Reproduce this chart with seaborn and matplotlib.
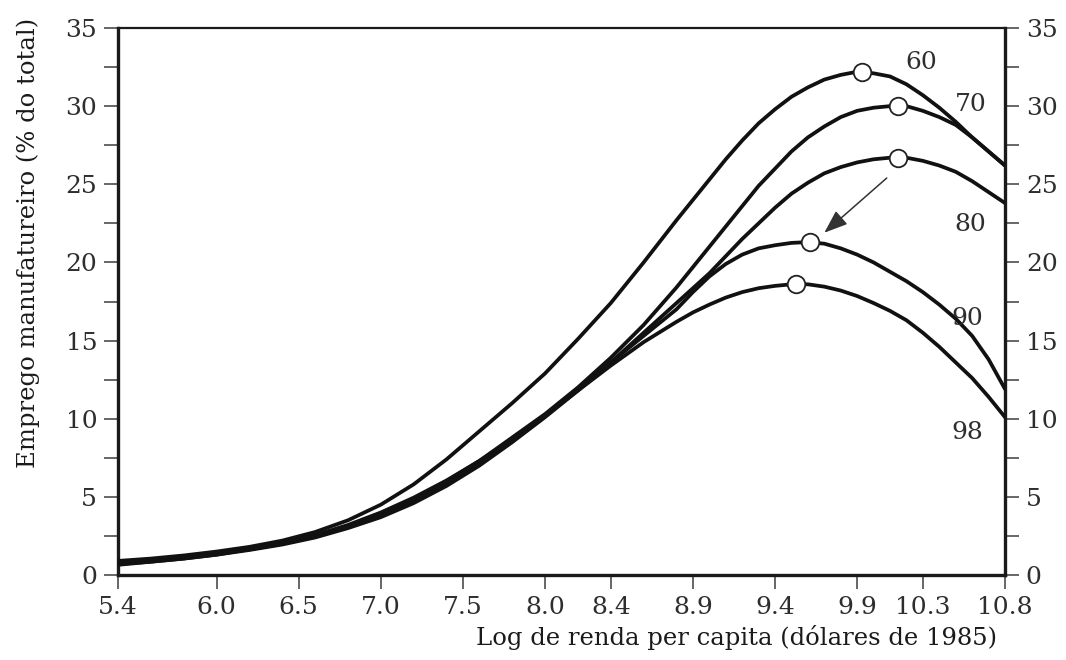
import numpy as np
import pandas as pd
import matplotlib
matplotlib.use("Agg")
import matplotlib.pyplot as plt
import seaborn as sns

# ---------------- data ----------------
x_grid = [5.4, 5.6, 5.8, 6.0, 6.2, 6.4, 6.6, 6.8, 7.0, 7.2, 7.4, 7.6, 7.8, 8.0,
          8.2, 8.4, 8.6,
          8.8, 8.9, 9.0, 9.1, 9.2, 9.3, 9.4, 9.5, 9.6, 9.7, 9.8, 9.9, 10.0,
          10.1, 10.2, 10.3, 10.4, 10.5, 10.6, 10.7, 10.8]

emp_60 = [0.9, 1.05, 1.25, 1.5, 1.8, 2.2, 2.75, 3.5, 4.5, 5.8, 7.4, 9.2, 11.0, 12.9,
          15.1, 17.4, 20.0,
          22.7, 24.0, 25.3, 26.6, 27.8, 28.9, 29.8, 30.6, 31.2, 31.7, 32.0, 32.2, 32.1,
          31.9, 31.4, 30.7, 29.9, 29.0, 28.0, 27.1, 26.2]
emp_70 = [0.75, 0.9, 1.1, 1.35, 1.65, 2.0, 2.5, 3.1, 3.8, 4.8, 6.0, 7.3, 8.8, 10.3,
          12.0, 13.9, 16.0,
          18.4, 19.7, 21.0, 22.3, 23.6, 24.9, 26.0, 27.1, 28.0, 28.7, 29.3, 29.7, 29.9,
          30.0, 30.0, 29.7, 29.3, 28.8, 28.0, 27.1, 26.2]
emp_80 = [0.7, 0.85, 1.05, 1.3, 1.6, 1.95, 2.4, 3.0, 3.7, 4.6, 5.7, 7.0, 8.5, 10.1,
          11.8, 13.6, 15.5,
          17.4, 18.35, 19.3, 20.4, 21.5, 22.5, 23.5, 24.4, 25.1, 25.7, 26.1, 26.4, 26.6,
          26.7, 26.7, 26.5, 26.2, 25.8, 25.2, 24.5, 23.8]
emp_90 = [0.75, 0.9, 1.1, 1.35, 1.65, 2.0, 2.45, 3.05, 3.8, 4.7, 5.8, 7.1, 8.6, 10.2,
          11.9, 13.6, 15.3,
          17.0, 18.1, 19.1, 19.9, 20.5, 20.9, 21.1, 21.25, 21.3, 21.2, 20.9, 20.5, 20.0,
          19.4, 18.8, 18.1, 17.3, 16.4, 15.3, 13.8, 11.9]
emp_98 = [0.65, 0.85, 1.05, 1.3, 1.65, 2.05, 2.55, 3.2, 4.0, 4.95, 6.05, 7.3, 8.7, 10.2,
          11.8, 13.4, 14.9,
          16.2, 16.8, 17.3, 17.75, 18.1, 18.35, 18.5, 18.6, 18.6, 18.45, 18.2, 17.85, 17.4,
          16.9, 16.3, 15.5, 14.6, 13.6, 12.6, 11.4, 10.1]

series_names = ["60", "70", "80", "90", "98"]
peak_x = [9.93, 10.15, 10.15, 9.61, 9.53]
peak_y = [32.2, 30.0, 26.7, 21.3, 18.6]
label_x = [10.29, 10.59, 10.59, 10.57, 10.57]
label_y = [32.8, 30.1, 22.4, 16.4, 9.1]

x_ticks = [5.4, 6.0, 6.5, 7.0, 7.5, 8.0, 8.4, 8.9, 9.4, 9.9, 10.3, 10.8]
y_ticks = [0, 5, 10, 15, 20, 25, 30, 35]
y_minor = [2.5, 7.5, 12.5, 17.5, 22.5, 27.5, 32.5]

arrow_start = (10.08, 25.4)
arrow_end = (9.70, 21.9)

x_label = "Log de renda per capita (dólares de 1985)"
y_label = "Emprego manufatureiro (% do total)"

# ---------------- build table ----------------
frames = []
for name, vals in zip(series_names, [emp_60, emp_70, emp_80, emp_90, emp_98]):
    frames.append(pd.DataFrame({"x": x_grid, "y": vals, "serie": name}))
df = pd.concat(frames, ignore_index=True)
peaks = pd.DataFrame({"x": peak_x, "y": peak_y, "serie": series_names})

# ---------------- style ----------------
sns.set_style("ticks")
plt.rcParams["font.family"] = ["DejaVu Serif"]
text_col = "#2e2e2e"
tick_col = "#5a5a5a"

fig = plt.figure(figsize=(10.66, 6.6), dpi=100)
ax = fig.add_axes([118 / 1066, 85 / 660, (1005 - 118) / 1066, (575 - 28) / 660])

sns.lineplot(data=df, x="x", y="y", hue="serie", palette={n: "#111111" for n in series_names},
             linewidth=2.7, legend=False, estimator=None, sort=True, ax=ax, zorder=3)
sns.scatterplot(data=peaks, x="x", y="y", s=160, color="white", edgecolor="#222222",
                linewidth=1.3, legend=False, ax=ax, zorder=5)

for name, lx, ly in zip(series_names, label_x, label_y):
    ax.text(lx, ly, name, fontsize=18, color=text_col, ha="center", va="center", zorder=6)

ax.annotate("", xy=arrow_end, xytext=arrow_start,
            arrowprops=dict(arrowstyle="-|>,head_length=0.8,head_width=0.3",
                            color="#333333", lw=1.1, mutation_scale=18, shrinkA=0, shrinkB=0),
            zorder=6)

ax.set_xlim(x_ticks[0], x_ticks[-1])
ax.set_ylim(y_ticks[0], y_ticks[-1])
ax.set_xticks(x_ticks)
ax.set_xticklabels([f"{v:.1f}" for v in x_ticks])
ax.set_yticks(y_ticks)
ax.set_yticks(y_minor, minor=True)
ax.set_yticklabels([str(v) for v in y_ticks])

ax.tick_params(axis="both", which="both", direction="out", color=tick_col, width=1.3,
               length=10, labelsize=18, labelcolor=text_col)
ax.tick_params(axis="y", which="both", left=True, right=True, labelleft=True, labelright=True, pad=5)
ax.tick_params(axis="x", pad=5)

for side in ["left", "right", "bottom"]:
    ax.spines[side].set_visible(True)
    ax.spines[side].set_linewidth(2.4)
    ax.spines[side].set_color("#1a1a1a")
ax.spines["top"].set_visible(True)
ax.spines["top"].set_linewidth(1.6)
ax.spines["top"].set_color("#1a1a1a")

ax.set_xlabel("")
ax.set_ylabel("")
fig.text(737 / 1066, 1 - 638 / 660, x_label, fontsize=17.5, color="#1a1a1a", ha="center", va="center")
fig.text(28 / 1066, 1 - 243 / 660, y_label, fontsize=17.5, color="#1a1a1a", ha="center", va="center",
         rotation=90)

fig.savefig("out.png", dpi=100, facecolor="white")
